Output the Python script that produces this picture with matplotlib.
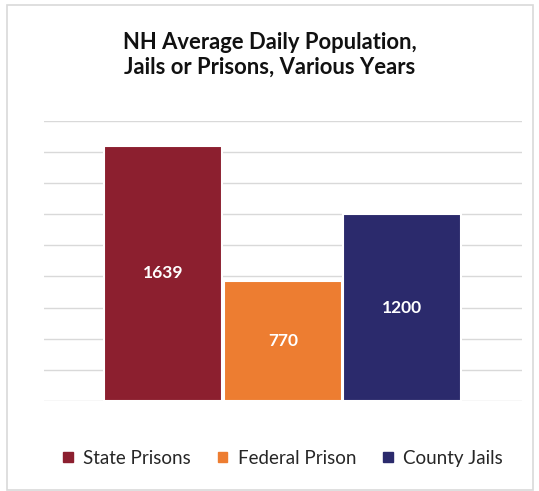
import matplotlib.pyplot as plt
import matplotlib.patches as mpatches
import numpy as np

### Data
series = ['State Prisons', 'Federal Prison', 'County Jails']
values = [1639, 770, 1200]
colors = ['#8C1F2F', '#ED7D31', '#2B2A6C']

title = 'NH Average Daily Population,\nJails or Prisons, Various Years'

plt.rcParams['font.family'] = ['Lato', 'DejaVu Sans']

fig = plt.figure(figsize=(5.39, 4.91), dpi=100)
ax = fig.add_axes([0.0816, 0.1833, 0.8864, 0.5711])

### outer frame
fig.patches.append(mpatches.Rectangle((0.013, 0.003), 0.975, 0.987, transform=fig.transFigure,
                                      fill=False, edgecolor='#D9D9D9', linewidth=1.2))

### bars
xpos = 0.25 * (np.arange(len(values)) + 1)
for i in range(len(values)):
    ax.bar(xpos[i], values[i], width=0.247, color=colors[i], edgecolor='white',
           linewidth=1.5, zorder=3, label=series[i])
    ax.text(xpos[i], values[i] / 2, str(values[i]), ha='center', va='center',
            color='white', fontsize=12.5, fontweight='bold', zorder=4)

ax.set_xlim(0, 1)
ax.set_ylim(0, 1800)
ax.set_yticks(np.arange(0, 1801, 200))
ax.yaxis.grid(True, color='#D9D9D9', linewidth=1.0, zorder=0)
ax.set_axisbelow(True)
ax.tick_params(axis='both', length=0, labelleft=False, labelbottom=False)
for s in ax.spines.values():
    s.set_visible(False)

fig.text(0.5, 0.888, title, ha='center', va='center', fontsize=15.8,
         fontweight='bold', color='#111111', linespacing=1.25)

handles = [mpatches.Patch(color=c) for c in colors]
fig.legend(handles, series, loc='center', bbox_to_anchor=(0.525, 0.067), ncol=3,
           frameon=False, fontsize=13.5, handlelength=0.5, handleheight=0.5,
           handletextpad=0.55, columnspacing=1.45, labelcolor='#262626')

plt.savefig('out.png', dpi=100)
